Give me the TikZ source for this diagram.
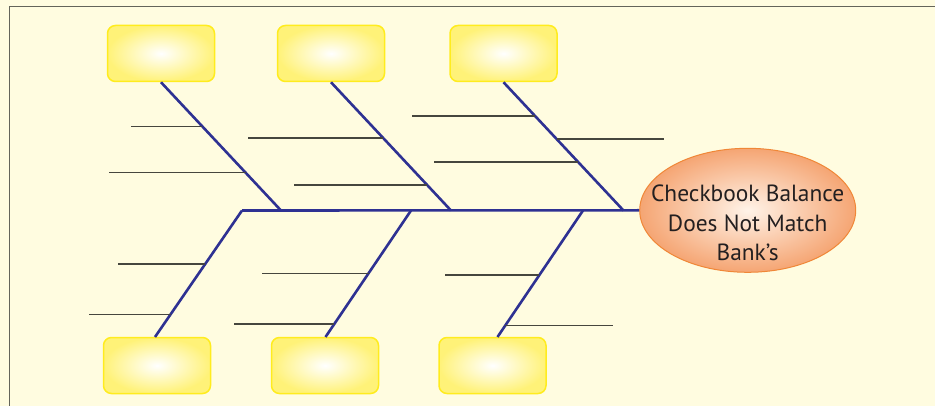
\documentclass[tikz,border=0pt]{standalone}
\usepackage{fontspec}
\setmainfont{PT Sans}
\usetikzlibrary{calc,shapes.geometric}
\definecolor{bgc}{RGB}{255,252,224}
\definecolor{framec}{RGB}{100,100,90}
\definecolor{bonec}{RGB}{46,49,146}
\definecolor{subc}{RGB}{70,70,62}
\definecolor{boxedge}{RGB}{255,236,30}
\definecolor{boxout}{RGB}{255,242,120}
\definecolor{ellout}{RGB}{245,165,115}
\definecolor{ellin}{RGB}{255,243,232}
\definecolor{elledge}{RGB}{240,135,55}
\definecolor{txtc}{RGB}{35,31,32}
\tikzset{
  catbox/.style={draw=boxedge, line width=1.5pt, rounded corners=8pt,
    minimum width=107pt, minimum height=56pt, inner sep=0pt,
    shading=radial, inner color=white, outer color=boxout},
  bone/.style={draw=bonec, line width=2.6pt},
  rib/.style={draw=subc, line width=1.4pt},
  effectnode/.style={ellipse, draw=elledge, line width=1pt,
    minimum width=216pt, minimum height=124pt, inner sep=0pt,
    shading=radial, inner color=ellin, outer color=ellout},
  efftext/.style={text=txtc, font=\fontsize{23.4}{29.5}\selectfont, align=center, inner sep=0pt}
}
\begin{document}
\begin{tikzpicture}[x=1pt,y=-1pt]
\fill[bgc] (0,0) rectangle (935,406);
\useasboundingbox (0,0) rectangle (935,406);
\draw[framec, line width=1.6pt] (9.5,406) -- (9.5,6.5) -- (935,6.5);

% effect
\node[effectnode] (eff) at (747.7,210.3) {};
\node[efftext] (efflabel) at (747.7,223) {Checkbook Balance\\Does Not Match\\Bank’s};

% category boxes
\node[catbox] (b1) at (161,53.5) {};
\node[catbox] (b2) at (331,53.5) {};
\node[catbox] (b3) at (503.5,53.5) {};
\node[catbox] (b4) at (157,365.5) {};
\node[catbox] (b5) at (325,365.5) {};
\node[catbox] (b6) at (492.5,365.5) {};

% spine junctions
\coordinate (j4) at (242,210.5);
\coordinate (j1) at (281,210.5);
\coordinate (j5) at (411,210.5);
\coordinate (j2) at (451,210.5);
\coordinate (j6) at (583,210.5);
\coordinate (j3) at (623.5,210.5);

% lower bone ends on box tops
\coordinate (t4) at (155,337);
\coordinate (t5) at (325.5,337);
\coordinate (t6) at (497.5,337);

% spine
\draw[bone] (j4) -- (eff.west);

% upper bones
\draw[bone] (b1.south) -- (j1);
\draw[bone] (b2.south) -- (j2);
\draw[bone] (b3.south) -- (j3);
% lower bones
\draw[bone] (j4) -- (t4);
\draw[bone] (j5) -- (t5);
\draw[bone] (j6) -- (t6);

% ribs on upper bone 1
\coordinate (r11) at ($(b1.south)!0.344!(j1)$);
\coordinate (r12) at ($(b1.south)!0.705!(j1)$);
\draw[rib] (r11) -- ++(-71,0);
\draw[rib] (r12) -- ++(-137,0);
% ribs on upper bone 2
\coordinate (r21) at ($(b2.south)!0.434!(j2)$);
\coordinate (r22) at ($(b2.south)!0.801!(j2)$);
\draw[rib] (r21) -- ++(-135,0);
\draw[rib] (r22) -- ++(-133,0);
% ribs on upper bone 3
\coordinate (r31) at ($(b3.south)!0.263!(j3)$);
\coordinate (r32) at ($(b3.south)!0.443!(j3)$);
\coordinate (r33) at ($(b3.south)!0.623!(j3)$);
\draw[rib] (r31) -- ++(-123,0);
\draw[rib] (r32) -- ++(107,0);
\draw[rib] (r33) -- ++(-144,0);
% ribs on lower bone 4
\coordinate (r41) at ($(j4)!0.423!(t4)$);
\coordinate (r42) at ($(j4)!0.821!(t4)$);
\draw[rib] (r41) -- ++(-87,0);
\draw[rib] (r42) -- ++(-82,0);
% ribs on lower bone 5
\coordinate (r51) at ($(j5)!0.496!(t5)$);
\coordinate (r52) at ($(j5)!0.898!(t5)$);
\draw[rib] (r51) -- ++(-107,0);
\draw[rib] (r52) -- ++(-100,0);
% ribs on lower bone 6
\coordinate (r61) at ($(j6)!0.509!(t6)$);
\coordinate (r62) at ($(j6)!0.907!(t6)$);
\draw[rib] (r61) -- ++(-94,0);
\draw[rib] (r62) -- ++(108,0);
\end{tikzpicture}
\end{document}
